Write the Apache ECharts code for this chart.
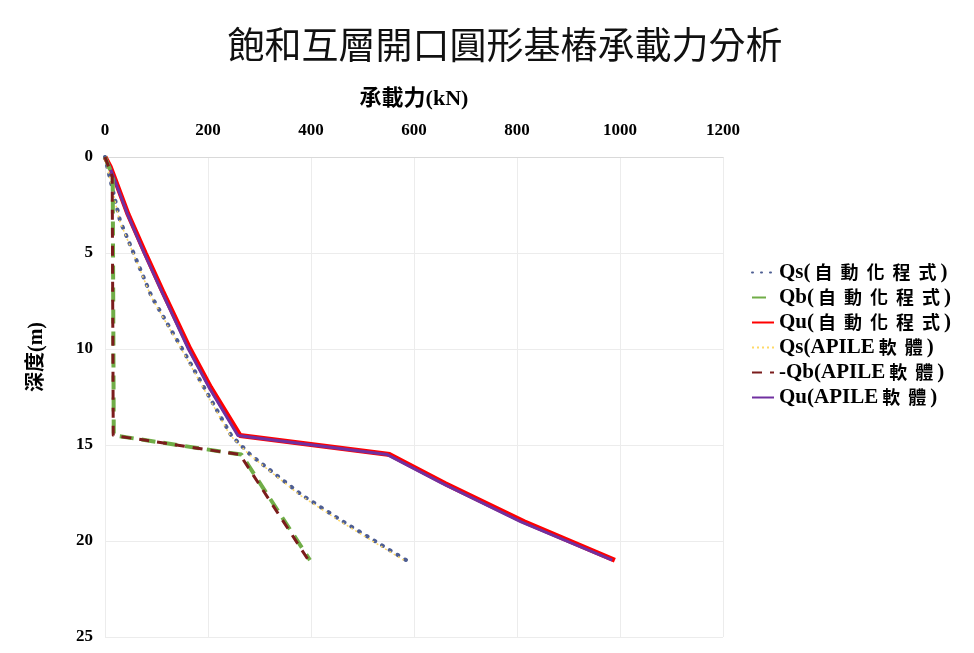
<!DOCTYPE html>
<html>
<head>
<meta charset="utf-8">
<script src="https://cdn.jsdelivr.net/npm/echarts@6/dist/echarts.min.js"></script>
<style>html,body{margin:0;padding:0;background:#fff}#c{width:974px;height:653px}</style>
</head>
<body>
<div id="c"></div>
<script>
const titleText = '飽和互層開口圓形基樁承載力分析';
const xName = '承載力(kN)';
const yName = '深度(m)';
const xTicks = [0, 200, 400, 600, 800, 1000, 1200];
const yTicks = [0, 5, 10, 15, 20, 25];

const seriesNames = ['Qs(自動化程式)', 'Qb(自動化程式)', 'Qu(自動化程式)', 'Qs(APILE軟體)', '-Qb(APILE軟體)', 'Qu(APILE軟體)'];

const depthQs = [0, 3.3, 7.3, 10, 14.5, 15.5, 17.6, 19, 21];
const qsAuto  = [0, 29, 91, 150, 245, 282, 382, 463, 585];
const qsApile = [0, 28, 90, 148, 243, 280, 378, 458, 580];

const depthQb = [0, 1, 14.5, 15.5, 21];
const qbAuto  = [0, 15, 17, 265, 398];
const qbApile = [0, 14, 16, 262, 395];

const depthQu = [0, 0.5, 1, 3, 5, 7, 10, 12, 14.5, 15.5, 17, 19, 21];
const quAuto  = [0, 10, 17, 45, 78, 112, 165, 205, 262, 553, 660, 814, 990];
const quApile = [0, 9, 16, 44, 76, 110, 162, 202, 258, 548, 655, 808, 985];

function pairs(xs, ds) { return xs.map((v, i) => [v, ds[i]]); }
function cjkRich(s) { return s.replace(/([\u3400-\u9fff])/g, '{c|$1}'); }

const serif = '"Liberation Serif", "Noto Sans CJK TC", serif';
const chart = echarts.init(document.getElementById('c'));
chart.setOption({
  animation: false,
  backgroundColor: '#ffffff',
  title: {
    text: titleText, left: 500, top: 21, textAlign: 'center',
    textStyle: { fontFamily: '"Noto Sans CJK TC"', fontSize: 37, fontWeight: 'normal', color: '#111' }
  },
  grid: { left: 105, top: 157, width: 618, height: 480 },
  legend: {
    orient: 'vertical', left: 746, top: 257, itemWidth: 22, itemHeight: 12, itemGap: 4,
    data: seriesNames,
    itemStyle: { opacity: 0 },
    formatter: cjkRich,
    textStyle: {
      fontFamily: serif, fontSize: 21, fontWeight: 'bold', color: '#000',
      rich: { c: { fontFamily: '"Noto Sans CJK TC"', fontSize: 18, fontWeight: 'bold', color: '#000', padding: [0, 4, 0, 4] } }
    }
  },
  xAxis: {
    type: 'value', position: 'top', min: xTicks[0], max: xTicks[xTicks.length - 1], interval: 200,
    name: xName, nameLocation: 'middle', nameGap: 47,
    nameTextStyle: { fontFamily: serif, fontSize: 22, fontWeight: 'bold', color: '#000' },
    axisLine: { show: true, lineStyle: { color: '#d9d9d9' } },
    axisTick: { show: false },
    axisLabel: { margin: 18, fontFamily: serif, fontSize: 17, fontWeight: 'bold', color: '#000', formatter: v => String(v) },
    splitLine: { show: true, lineStyle: { color: '#ececec' } }
  },
  yAxis: {
    type: 'value', inverse: true, min: yTicks[0], max: yTicks[yTicks.length - 1], interval: 5,
    name: yName, nameLocation: 'middle', nameGap: 58,
    nameTextStyle: { fontFamily: serif, fontSize: 20, fontWeight: 'bold', color: '#000', padding: [0, 0, 0, 80] },
    axisLine: { show: false },
    axisTick: { show: false },
    axisLabel: { margin: 12, fontFamily: serif, fontSize: 17, fontWeight: 'bold', color: '#000' },
    splitLine: { show: true, lineStyle: { color: '#ececec' } }
  },
  series: [
    { name: seriesNames[2], type: 'line', symbol: 'none', data: pairs(quAuto, depthQu),
      lineStyle: { color: '#ff0000', width: 5 }, itemStyle: { color: '#ff0000' }, z: 2 },
    { name: seriesNames[5], type: 'line', symbol: 'none', data: pairs(quApile, depthQu),
      lineStyle: { color: '#7030a0', width: 3 }, itemStyle: { color: '#7030a0' }, z: 3 },
    { name: seriesNames[0], type: 'line', symbol: 'none', data: pairs(qsAuto, depthQs),
      lineStyle: { color: '#4e5e92', width: 4, type: [1, 8], cap: 'round' }, itemStyle: { color: '#4e5e92' }, z: 4 },
    { name: seriesNames[3], type: 'line', symbol: 'none', data: pairs(qsApile, depthQs),
      lineStyle: { color: '#ffd966', width: 1.5, type: [2, 3] }, itemStyle: { color: '#ffd966' }, z: 5 },
    { name: seriesNames[1], type: 'line', symbol: 'none', data: pairs(qbAuto, depthQb),
      lineStyle: { color: '#70ad47', width: 4, type: [14, 8] }, itemStyle: { color: '#70ad47' }, z: 6 },
    { name: seriesNames[4], type: 'line', symbol: 'none', data: pairs(qbApile, depthQb),
      lineStyle: { color: '#7b1c1c', width: 3, type: [10, 8] }, itemStyle: { color: '#7b1c1c' }, z: 7 }
  ]
});
</script>
</body>
</html>
